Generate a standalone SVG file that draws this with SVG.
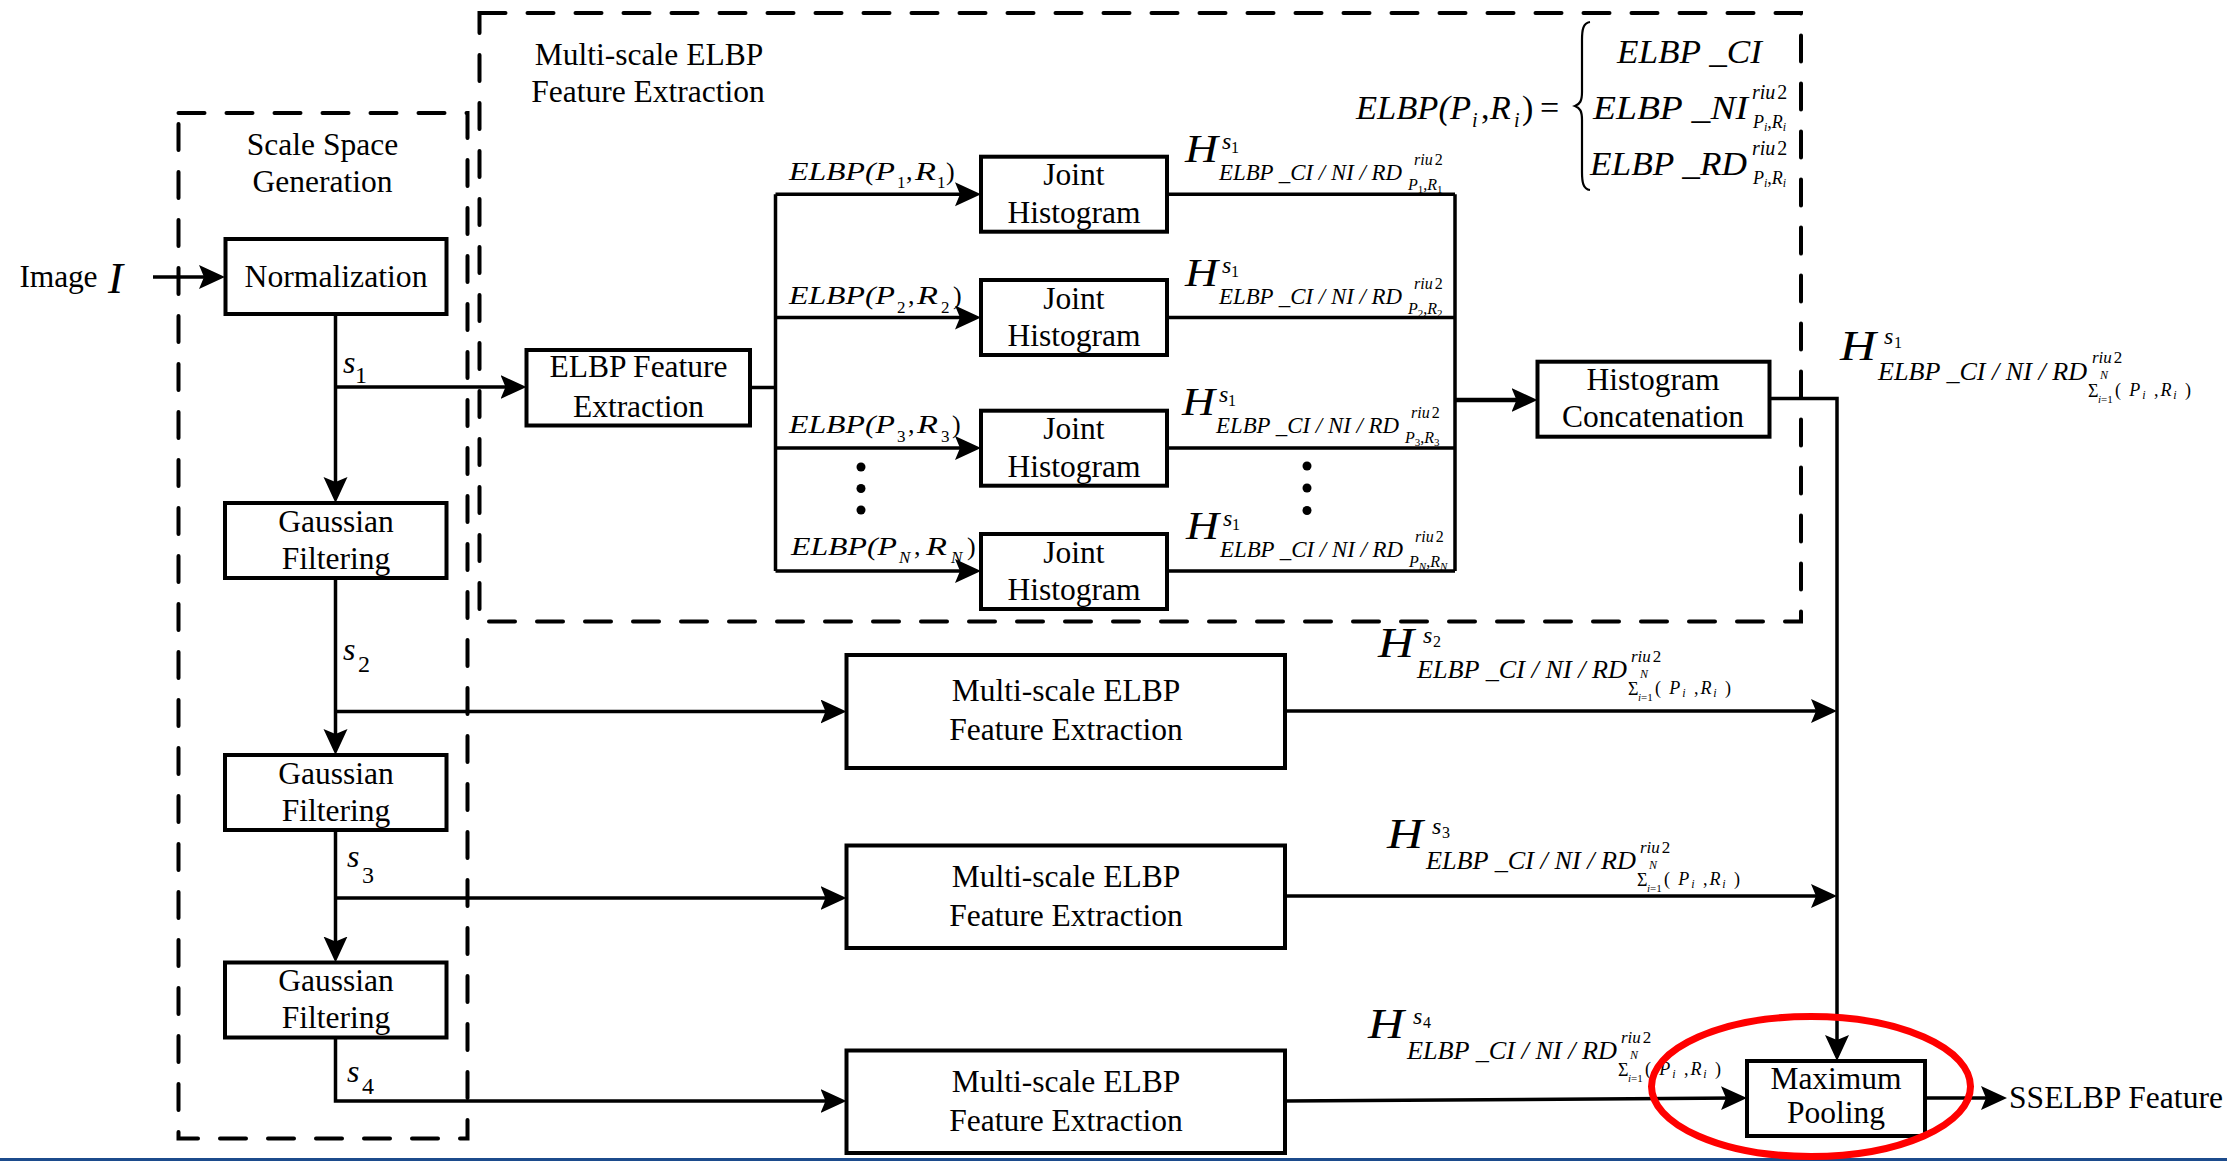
<svg xmlns="http://www.w3.org/2000/svg" width="2227" height="1161" viewBox="0 0 2227 1161">
  <style>
    .t { font-family: "Liberation Serif", "Times New Roman", serif; font-size: 31.5px; fill: #000; }
    .c { text-anchor: middle; }
    .m { font-family: "Liberation Serif", "Times New Roman", serif; font-style: italic; fill: #000; }
    .r { font-family: "Liberation Serif", "Times New Roman", serif; font-style: normal; fill: #000; }
    .u { font-style: normal; }
    .i { font-style: italic; }
    .box { fill: #fff; stroke: #000; stroke-width: 4; }
    .dash { fill: none; stroke: #000; stroke-width: 4; stroke-dasharray: 26 22; stroke-linecap: round; }
    .ln { fill: none; stroke: #000; stroke-width: 3.5; }
    .arr { marker-end: url(#ah); }
  </style>
  <defs>
    <marker id="ah" markerUnits="userSpaceOnUse" markerWidth="28" markerHeight="26" refX="16" refY="12" orient="auto">
      <path d="M0,0 L26,12 L0,24 L5,12 Z" fill="#000"/>
    </marker>
  </defs>

  <rect x="0" y="0" width="2227" height="1161" fill="#fff"/>

  <!-- dashed containers -->
  <g id="scale-space-group">
    <rect class="dash" x="178.5" y="113" width="289" height="1025.5"/>
    <text class="t c" x="322.5" y="155">Scale Space</text>
    <text class="t c" x="322.5" y="192">Generation</text>
  </g>
  <g id="multiscale-group">
    <rect class="dash" x="479.5" y="13" width="1321.5" height="608.5"/>
    <text class="t c" x="649" y="65">Multi-scale ELBP</text>
    <text class="t c" x="648" y="101.5">Feature Extraction</text>
  </g>

  <!-- connectors -->
  <g id="connectors">
    <path class="ln arr" d="M153,277 H215"/>
    <path class="ln arr" d="M335.5,314 V493"/>
    <path class="ln arr" d="M335.5,387 H516.5"/>
    <path class="ln arr" d="M335.5,578 V745"/>
    <path class="ln arr" d="M335.5,711.5 H836.5"/>
    <path class="ln arr" d="M335.5,830 V952.5"/>
    <path class="ln arr" d="M335.5,898 H836.5"/>
    <path class="ln arr" d="M335.5,1037 V1101 H836.5"/>
    <path class="ln" d="M750,387.5 H775.5 M775.5,194.3 V571"/>
    <path class="ln arr" d="M775.5,194.3 H971"/>
    <path class="ln arr" d="M775.5,317.5 H971"/>
    <path class="ln arr" d="M775.5,448 H971"/>
    <path class="ln arr" d="M775.5,571 H971"/>
    <path class="ln" d="M1167,194.3 H1455 M1167,317.5 H1455 M1167,448 H1455 M1167,571 H1455 M1455,194.3 V571"/>
    <path class="ln arr" style="stroke-width:4.5" d="M1455,400 H1527.5"/>
    <path class="ln arr" d="M1770,398.5 H1837 V1051"/>
    <path class="ln arr" d="M1285,711 H1827"/>
    <path class="ln arr" d="M1285,896 H1827"/>
    <path class="ln arr" d="M1285,1101 L1737,1098"/>
    <path class="ln arr" d="M1925,1098 H1997"/>
  </g>

  <!-- input -->
  <g id="input">
    <text class="t" x="19.5" y="287" textLength="78">Image</text>
    <text class="m" x="108" y="293" font-size="45">I</text>
  </g>

  <!-- scale space nodes -->
  <g id="normalization">
    <rect class="box" x="225.5" y="239" width="221" height="75"/>
    <text class="t c" x="336" y="287" textLength="183" lengthAdjust="spacingAndGlyphs">Normalization</text>
  </g>
  <g id="gaussian-1">
    <rect class="box" x="225" y="503" width="221.5" height="75"/>
    <text class="t c" x="336" y="531.8">Gaussian</text>
    <text class="t c" x="336" y="568.8">Filtering</text>
  </g>
  <g id="gaussian-2">
    <rect class="box" x="225" y="755" width="221.5" height="75"/>
    <text class="t c" x="336" y="783.8">Gaussian</text>
    <text class="t c" x="336" y="820.8">Filtering</text>
  </g>
  <g id="gaussian-3">
    <rect class="box" x="225" y="962.5" width="221.5" height="75"/>
    <text class="t c" x="336" y="991.3">Gaussian</text>
    <text class="t c" x="336" y="1028.3">Filtering</text>
  </g>

  <!-- scale labels -->
  <g id="scale-labels">
    <text class="m" x="343" y="373" font-size="32">s</text><text class="r" x="355" y="383" font-size="24">1</text>
    <text class="m" x="343" y="660" font-size="32">s</text><text class="r" x="358" y="672" font-size="24">2</text>
    <text class="m" x="347" y="867" font-size="32">s</text><text class="r" x="362" y="883" font-size="24">3</text>
    <text class="m" x="347" y="1082" font-size="32">s</text><text class="r" x="362" y="1094" font-size="24">4</text>
  </g>

  <!-- first scale: multi-radius pipeline -->
  <g id="elbp-extraction">
    <rect class="box" x="526.5" y="350" width="223.5" height="75.5"/>
    <text class="t c" x="638.5" y="377">ELBP Feature</text>
    <text class="t c" x="638.5" y="417">Extraction</text>
  </g>
  <g id="joint-hist-1">
    <rect class="box" x="981" y="156.7" width="186" height="75"/>
    <text class="t c" x="1074" y="185.2">Joint</text>
    <text class="t c" x="1074" y="222.7">Histogram</text>
  </g>
  <g id="joint-hist-2">
    <rect class="box" x="981" y="280" width="186" height="75"/>
    <text class="t c" x="1074" y="308.5">Joint</text>
    <text class="t c" x="1074" y="346">Histogram</text>
  </g>
  <g id="joint-hist-3">
    <rect class="box" x="981" y="410.7" width="186" height="75"/>
    <text class="t c" x="1074" y="439.2">Joint</text>
    <text class="t c" x="1074" y="476.7">Histogram</text>
  </g>
  <g id="joint-hist-n">
    <rect class="box" x="981" y="534" width="186" height="75"/>
    <text class="t c" x="1074" y="562.5">Joint</text>
    <text class="t c" x="1074" y="600">Histogram</text>
  </g>
  <g id="hist-concat">
    <rect class="box" x="1537.5" y="361.7" width="232" height="75"/>
    <text class="t c" x="1653" y="389.5">Histogram</text>
    <text class="t c" x="1653" y="427">Concatenation</text>
  </g>

  <!-- ellipsis dots -->
  <g id="dots">
    <circle cx="861" cy="467" r="4.5"/>
    <circle cx="861" cy="488.5" r="4.5"/>
    <circle cx="861" cy="510" r="4.5"/>
    <circle cx="1307" cy="466" r="4.5"/>
    <circle cx="1307" cy="488" r="4.5"/>
    <circle cx="1307" cy="510.5" r="4.5"/>
  </g>

  <!-- other scales -->
  <g id="multiscale-2">
    <rect class="box" x="846.5" y="655" width="438.5" height="113"/>
    <text class="t c" x="1066" y="701">Multi-scale ELBP</text>
    <text class="t c" x="1066" y="740">Feature Extraction</text>
  </g>
  <g id="multiscale-3">
    <rect class="box" x="846.5" y="845.5" width="438.5" height="102.5"/>
    <text class="t c" x="1066" y="886.5">Multi-scale ELBP</text>
    <text class="t c" x="1066" y="925.5">Feature Extraction</text>
  </g>
  <g id="multiscale-4">
    <rect class="box" x="846.5" y="1050.5" width="438.5" height="102.5"/>
    <text class="t c" x="1066" y="1091.5">Multi-scale ELBP</text>
    <text class="t c" x="1066" y="1130.5">Feature Extraction</text>
  </g>
  <g id="max-pooling">
    <rect class="box" x="1747" y="1061" width="178" height="75"/>
    <text class="t c" x="1836" y="1088.5">Maximum</text>
    <text class="t c" x="1836" y="1123">Pooling</text>
  </g>
  <g id="output">
    <text class="t" x="2009" y="1108" textLength="214">SSELBP Feature</text>
  </g>

  <!-- branch labels ELBP(P_k,R_k) -->
  <g id="branch-labels">
    <g transform="translate(789,180)">
      <text class="m" font-size="26" textLength="106" lengthAdjust="spacingAndGlyphs">ELBP(P</text>
      <text class="r" x="108" y="8" font-size="17">1</text>
      <text class="r" x="117" y="0" font-size="26">,</text>
      <text class="m" x="126" y="0" font-size="26" textLength="21" lengthAdjust="spacingAndGlyphs">R</text>
      <text class="r" x="148" y="8" font-size="17">1</text>
      <text class="r" x="157" y="0" font-size="26">)</text>
    </g>
    <g transform="translate(789,304)">
      <text class="m" font-size="26" textLength="106" lengthAdjust="spacingAndGlyphs">ELBP(P</text>
      <text class="r" x="108" y="9" font-size="17">2</text>
      <text class="r" x="119" y="0" font-size="26">,</text>
      <text class="m" x="128" y="0" font-size="26" textLength="21" lengthAdjust="spacingAndGlyphs">R</text>
      <text class="r" x="152" y="9" font-size="17">2</text>
      <text class="r" x="164" y="0" font-size="26">)</text>
    </g>
    <g transform="translate(789,433)">
      <text class="m" font-size="26" textLength="106" lengthAdjust="spacingAndGlyphs">ELBP(P</text>
      <text class="r" x="108" y="9" font-size="17">3</text>
      <text class="r" x="119" y="0" font-size="26">,</text>
      <text class="m" x="128" y="0" font-size="26" textLength="21" lengthAdjust="spacingAndGlyphs">R</text>
      <text class="r" x="152" y="9" font-size="17">3</text>
      <text class="r" x="163" y="0" font-size="26">)</text>
    </g>
    <g transform="translate(791,555)">
      <text class="m" font-size="26" textLength="106" lengthAdjust="spacingAndGlyphs">ELBP(P</text>
      <text class="m" x="108" y="8" font-size="17">N</text>
      <text class="r" x="123" y="0" font-size="26">,</text>
      <text class="m" x="135" y="0" font-size="26" textLength="21" lengthAdjust="spacingAndGlyphs">R</text>
      <text class="m" x="160" y="8" font-size="17">N</text>
      <text class="r" x="176" y="0" font-size="26">)</text>
    </g>
  </g>

  <!-- per-radius histogram labels -->
  <g id="hist-labels">
    <g transform="translate(1185,162)">
      <text class="m" font-size="40" textLength="33" lengthAdjust="spacingAndGlyphs">H</text>
      <text class="m" x="37" y="-13" font-size="24">s</text>
      <text class="r" x="46" y="-9" font-size="16">1</text>
      <text class="m" x="34" y="18" font-size="24" textLength="183" lengthAdjust="spacingAndGlyphs">ELBP _CI / NI / RD</text>
      <text class="m" x="229" y="3" font-size="16">riu<tspan class="u" dx="2">2</tspan></text>
      <text class="m" x="223" y="28" font-size="16">P<tspan class="u" font-size="11" dy="3">1</tspan><tspan class="u" dy="-3">,</tspan>R<tspan class="u" font-size="11" dy="3">1</tspan></text>
    </g>
    <g transform="translate(1185,286)">
      <text class="m" font-size="40" textLength="33" lengthAdjust="spacingAndGlyphs">H</text>
      <text class="m" x="37" y="-13" font-size="24">s</text>
      <text class="r" x="46" y="-9" font-size="16">1</text>
      <text class="m" x="34" y="18" font-size="24" textLength="183" lengthAdjust="spacingAndGlyphs">ELBP _CI / NI / RD</text>
      <text class="m" x="229" y="3" font-size="16">riu<tspan class="u" dx="2">2</tspan></text>
      <text class="m" x="223" y="28" font-size="16">P<tspan class="u" font-size="11" dy="3">2</tspan><tspan class="u" dy="-3">,</tspan>R<tspan class="u" font-size="11" dy="3">2</tspan></text>
    </g>
    <g transform="translate(1182,415)">
      <text class="m" font-size="40" textLength="33" lengthAdjust="spacingAndGlyphs">H</text>
      <text class="m" x="37" y="-13" font-size="24">s</text>
      <text class="r" x="46" y="-9" font-size="16">1</text>
      <text class="m" x="34" y="18" font-size="24" textLength="183" lengthAdjust="spacingAndGlyphs">ELBP _CI / NI / RD</text>
      <text class="m" x="229" y="3" font-size="16">riu<tspan class="u" dx="2">2</tspan></text>
      <text class="m" x="223" y="28" font-size="16">P<tspan class="u" font-size="11" dy="3">3</tspan><tspan class="u" dy="-3">,</tspan>R<tspan class="u" font-size="11" dy="3">3</tspan></text>
    </g>
    <g transform="translate(1186,539)">
      <text class="m" font-size="40" textLength="33" lengthAdjust="spacingAndGlyphs">H</text>
      <text class="m" x="37" y="-13" font-size="24">s</text>
      <text class="r" x="46" y="-9" font-size="16">1</text>
      <text class="m" x="34" y="18" font-size="24" textLength="183" lengthAdjust="spacingAndGlyphs">ELBP _CI / NI / RD</text>
      <text class="m" x="229" y="3" font-size="16">riu<tspan class="u" dx="2">2</tspan></text>
      <text class="m" x="223" y="28" font-size="16">P<tspan font-size="11" dy="3">N</tspan><tspan class="u" dy="-3">,</tspan>R<tspan font-size="11" dy="3">N</tspan></text>
    </g>
  </g>

  <!-- concatenated histogram labels, one per scale -->
  <g id="scale-hist-labels">
    <g transform="translate(1840,360)">
      <text class="m" font-size="42" textLength="36" lengthAdjust="spacingAndGlyphs">H</text>
      <text class="m" x="44" y="-16" font-size="24">s</text>
      <text class="r" x="54" y="-12" font-size="16">1</text>
      <text class="m" x="38" y="20" font-size="26" textLength="209" lengthAdjust="spacingAndGlyphs">ELBP _CI / NI / RD</text>
      <text class="m" x="252" y="3" font-size="17">riu<tspan class="u" dx="2">2</tspan></text>
      <text class="r" x="248" y="37" font-size="18">Σ</text>
      <text class="m" x="260" y="19" font-size="12">N</text>
      <text class="m" x="258" y="43" font-size="11">i<tspan class="u">=1</tspan></text>
      <text class="r" x="275" y="36" font-size="18" textLength="76">( <tspan class="i">P</tspan><tspan class="i" font-size="12" dy="3">i</tspan><tspan dy="-3"> ,</tspan><tspan class="i">R</tspan><tspan class="i" font-size="12" dy="3">i</tspan><tspan dy="-3"> )</tspan></text>
    </g>
    <g transform="translate(1378,657)">
      <text class="m" font-size="42" textLength="36" lengthAdjust="spacingAndGlyphs">H</text>
      <text class="m" x="45" y="-14" font-size="24">s</text>
      <text class="r" x="55" y="-10" font-size="16">2</text>
      <text class="m" x="39" y="21" font-size="26" textLength="210" lengthAdjust="spacingAndGlyphs">ELBP _CI / NI / RD</text>
      <text class="m" x="253" y="5" font-size="17">riu<tspan class="u" dx="2">2</tspan></text>
      <text class="r" x="250" y="38" font-size="18">Σ</text>
      <text class="m" x="262" y="21" font-size="12">N</text>
      <text class="m" x="260" y="44" font-size="11">i<tspan class="u">=1</tspan></text>
      <text class="r" x="277" y="37" font-size="18" textLength="76">( <tspan class="i">P</tspan><tspan class="i" font-size="12" dy="3">i</tspan><tspan dy="-3"> ,</tspan><tspan class="i">R</tspan><tspan class="i" font-size="12" dy="3">i</tspan><tspan dy="-3"> )</tspan></text>
    </g>
    <g transform="translate(1387,848)">
      <text class="m" font-size="42" textLength="36" lengthAdjust="spacingAndGlyphs">H</text>
      <text class="m" x="45" y="-14" font-size="24">s</text>
      <text class="r" x="55" y="-10" font-size="16">3</text>
      <text class="m" x="39" y="21" font-size="26" textLength="210" lengthAdjust="spacingAndGlyphs">ELBP _CI / NI / RD</text>
      <text class="m" x="253" y="5" font-size="17">riu<tspan class="u" dx="2">2</tspan></text>
      <text class="r" x="250" y="38" font-size="18">Σ</text>
      <text class="m" x="262" y="21" font-size="12">N</text>
      <text class="m" x="260" y="44" font-size="11">i<tspan class="u">=1</tspan></text>
      <text class="r" x="277" y="37" font-size="18" textLength="76">( <tspan class="i">P</tspan><tspan class="i" font-size="12" dy="3">i</tspan><tspan dy="-3"> ,</tspan><tspan class="i">R</tspan><tspan class="i" font-size="12" dy="3">i</tspan><tspan dy="-3"> )</tspan></text>
    </g>
    <g transform="translate(1368,1038)">
      <text class="m" font-size="42" textLength="36" lengthAdjust="spacingAndGlyphs">H</text>
      <text class="m" x="45" y="-14" font-size="24">s</text>
      <text class="r" x="55" y="-10" font-size="16">4</text>
      <text class="m" x="39" y="21" font-size="26" textLength="210" lengthAdjust="spacingAndGlyphs">ELBP _CI / NI / RD</text>
      <text class="m" x="253" y="5" font-size="17">riu<tspan class="u" dx="2">2</tspan></text>
      <text class="r" x="250" y="38" font-size="18">Σ</text>
      <text class="m" x="262" y="21" font-size="12">N</text>
      <text class="m" x="260" y="44" font-size="11">i<tspan class="u">=1</tspan></text>
      <text class="r" x="277" y="37" font-size="18" textLength="76">( <tspan class="i">P</tspan><tspan class="i" font-size="12" dy="3">i</tspan><tspan dy="-3"> ,</tspan><tspan class="i">R</tspan><tspan class="i" font-size="12" dy="3">i</tspan><tspan dy="-3"> )</tspan></text>
    </g>
  </g>

  <!-- ELBP operator definition -->
  <g id="definition">
    <text class="m" x="1356" y="119" font-size="34" textLength="115" lengthAdjust="spacingAndGlyphs">ELBP(P</text>
    <text class="m" x="1472" y="127" font-size="20">i</text>
    <text class="r" x="1481" y="119" font-size="34">,</text>
    <text class="m" x="1490" y="119" font-size="34">R</text>
    <text class="m" x="1514" y="127" font-size="20">i</text>
    <text class="r" x="1522" y="119" font-size="34">)</text>
    <text class="r" x="1540" y="119" font-size="34">=</text>
    <path d="M1590,22 C1583,23 1582,30 1582,40 L1582,92 C1582,101 1580,104 1575,106 C1580,108 1582,111 1582,120 L1582,172 C1582,182 1583,189 1590,190" fill="none" stroke="#000" stroke-width="2.2"/>
    <text class="m" x="1617" y="63" font-size="34" textLength="145" lengthAdjust="spacingAndGlyphs">ELBP _CI</text>
    <text class="m" x="1593" y="119" font-size="34" textLength="155" lengthAdjust="spacingAndGlyphs">ELBP _NI</text>
    <text class="m" x="1752" y="99" font-size="20">riu<tspan class="u" dx="2">2</tspan></text>
    <text class="m" x="1753" y="128" font-size="18">P<tspan font-size="12" dy="3">i</tspan><tspan class="u" dy="-3">,</tspan>R<tspan font-size="12" dy="3">i</tspan></text>
    <text class="m" x="1590" y="175" font-size="34" textLength="157" lengthAdjust="spacingAndGlyphs">ELBP _RD</text>
    <text class="m" x="1752" y="155" font-size="20">riu<tspan class="u" dx="2">2</tspan></text>
    <text class="m" x="1753" y="184" font-size="18">P<tspan font-size="12" dy="3">i</tspan><tspan class="u" dy="-3">,</tspan>R<tspan font-size="12" dy="3">i</tspan></text>
  </g>

  <!-- bottom rule and highlight -->
  <rect x="0" y="1158" width="2227" height="3" fill="#1c4b8c"/>
  <ellipse cx="1811" cy="1086.5" rx="159.5" ry="70" fill="none" stroke="#ff0000" stroke-width="7"/>
</svg>
